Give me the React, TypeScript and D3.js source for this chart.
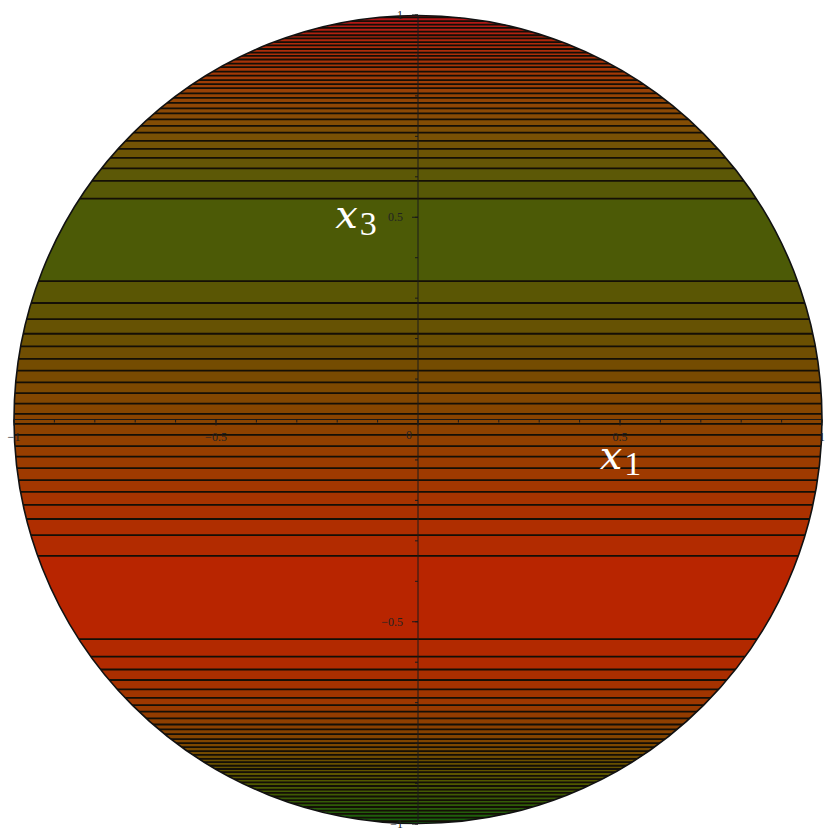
import React, { useEffect } from 'react';
import * as d3 from 'd3';

// contour levels (x3 values where the black lines sit)
const upperLevels = [
  0.014, 0.039, 0.065, 0.092, 0.121, 0.15, 0.181, 0.212, 0.248, 0.288, 0.342,
  0.546, 0.59, 0.621, 0.647, 0.669, 0.689, 0.709, 0.726, 0.742, 0.757, 0.769,
  0.783, 0.795, 0.806, 0.819, 0.829, 0.839, 0.85, 0.86, 0.871, 0.88, 0.89,
  0.899, 0.907, 0.916, 0.925, 0.933, 0.942, 0.95, 0.959, 0.968, 0.976, 0.985,
  0.994,
];
const lowerLevels = [
  -0.011, -0.038, -0.066, -0.092, -0.12, -0.15, -0.179, -0.211, -0.246, -0.286,
  -0.337, -0.543, -0.586, -0.618, -0.644, -0.667, -0.688, -0.706, -0.722,
  -0.739, -0.754, -0.766, -0.778, -0.79, -0.8, -0.81, -0.82, -0.829, -0.839,
  -0.847, -0.856, -0.864, -0.872, -0.881, -0.889, -0.897, -0.906, -0.915,
  -0.923, -0.932, -0.941, -0.949, -0.958, -0.967, -0.975, -0.984, -0.993,
];

// shading of the bands along x3
const shadeAt = [1, 0.93, 0.85, 0.77, 0.69, 0.6, 0.45, 0.3, 0.2, 0.1, 0, -0.1, -0.2, -0.3, -0.44, -0.6, -0.7, -0.8, -0.9, -1];
const shadeColor = [
  '#b3121a', '#b02a0c', '#a23a06', '#8e4805', '#765205', '#5a5806', '#4b5a06',
  '#5c5504', '#6a5002', '#7a4a01', '#8a4400', '#9a3d00', '#a83400', '#b22b00',
  '#b82500', '#b02a00', '#9c3800', '#7e4600', '#505800', '#126010',
];

const majorTicks = [-1, -0.5, 0, 0.5, 1];
const tickLabels = ['\u22121', '\u22120.5', '0', '0.5', '1'];
const minorTicks = d3.range(-10, 11).map(i => i / 10);

const W = 830;
const H = 837;

export default function App() {
  useEffect(() => {
    document.body.style.margin = '0';
  }, []);

  const x = d3.scaleLinear().domain([-1, 1]).range([14, 822]);
  const y = d3.scaleLinear().domain([-1, 1]).range([824, 15]);
  const cx = x(0);
  const cy = y(0);
  const r = (x(1) - x(-1)) / 2;

  const color = d3
    .scaleLinear<string>()
    .domain(shadeAt)
    .range(shadeColor)
    .interpolate(d3.interpolateRgb);

  const levels = [...lowerLevels, ...upperLevels].sort((a, b) => a - b);
  const edges = [-1, ...levels, 1];
  const bands = d3.pairs(edges);

  return (
    <svg width={W} height={H} style={{ display: 'block' }}>
      <defs>
        <clipPath id="disk">
          <circle cx={cx} cy={cy} r={r} />
        </clipPath>
      </defs>
      <g clipPath="url(#disk)">
        {bands.map(([a, b], i) => (
          <rect
            key={i}
            x={x(-1) - 2}
            width={x(1) - x(-1) + 4}
            y={y(b)}
            height={y(a) - y(b) + 0.5}
            fill={color((a + b) / 2)}
          />
        ))}
        {levels.map((v, i) => (
          <line
            key={i}
            x1={x(-1) - 2}
            x2={x(1) + 2}
            y1={y(v)}
            y2={y(v)}
            stroke="#140f06"
            strokeWidth={1.8}
          />
        ))}
      </g>
      <circle cx={cx} cy={cy} r={r} fill="none" stroke="#111" strokeWidth={1.6} />

      {/* axes through the origin */}
      <g stroke="#1a1a1a" strokeWidth={1}>
        <line x1={x(-1)} x2={x(1)} y1={cy} y2={cy} />
        <line x1={cx} x2={cx} y1={y(1)} y2={y(-1)} />
        {minorTicks.map(t => (
          <g key={t}>
            <line x1={x(t)} x2={x(t)} y1={cy} y2={cy + 3} />
            <line x1={cx - 3} x2={cx} y1={y(t)} y2={y(t)} />
          </g>
        ))}
        {majorTicks.map(t => (
          <g key={t}>
            <line x1={x(t)} x2={x(t)} y1={cy} y2={cy + 6} />
            <line x1={cx - 6} x2={cx} y1={y(t)} y2={y(t)} />
          </g>
        ))}
      </g>

      <g fontFamily="Liberation Serif" fontSize={12} fill="#222">
        {majorTicks.map((t, i) =>
          t === 0 ? (
            <text key={t} x={cx - 9} y={cy + 19} textAnchor="middle">
              {tickLabels[i]}
            </text>
          ) : (
            <text key={t} x={x(t)} y={cy + 21} textAnchor="middle">
              {tickLabels[i]}
            </text>
          )
        )}
        {majorTicks.map((t, i) =>
          t === 0 ? null : (
            <text key={t} x={cx - 15} y={y(t) + 4} textAnchor="end">
              {tickLabels[i]}
            </text>
          )
        )}
      </g>

      <g fontFamily="DejaVu Serif" fill="#fff">
        <text x={x(0.45)} y={y(-0.122)} fontSize={40} fontStyle="italic">
          x
          <tspan fontFamily="Liberation Serif" fontSize={34} fontStyle="normal" dx={2} dy={6}>
            1
          </tspan>
        </text>
        <text x={x(-0.205)} y={y(0.473)} fontSize={40} fontStyle="italic">
          x
          <tspan fontFamily="Liberation Serif" fontSize={34} fontStyle="normal" dx={2} dy={7}>
            3
          </tspan>
        </text>
      </g>
    </svg>
  );
}
